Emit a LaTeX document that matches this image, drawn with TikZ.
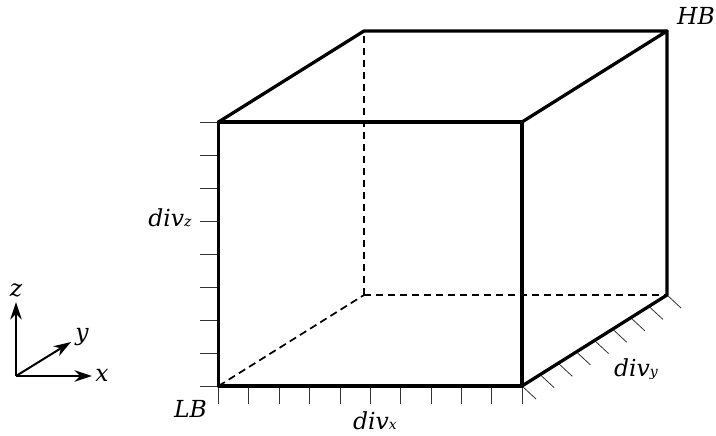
\documentclass[tikz,border=0pt]{standalone}
\usepackage{fontspec}
\setmainfont{DejaVu Serif}
\usetikzlibrary{arrows.meta,calc}
\tikzset{
  px/.style={x=0.75pt,y=-0.75pt},
  edge/.style={line width=2.45pt,line cap=round,line join=round},
  hidden/.style={line width=1.3pt,dash pattern=on 5.6pt off 3.4pt},
  tick/.style={line width=0.6pt,black!80},
  axis/.style={line width=1.5pt,-{Stealth[length=13pt,width=8.5pt,inset=4pt]}},
  lab/.style={inner sep=0pt,font=\fontsize{17.6}{20}\selectfont\itshape},
}
\newcommand{\sbs}[1]{{\fontsize{10.5}{13}\selectfont #1}}
\begin{document}
\begin{tikzpicture}[px]
\useasboundingbox (0,0) rectangle (716,435);
% corners
\coordinate (A) at (218.5,386);
\coordinate (B) at (522,386);
\coordinate (C) at (522,122);
\coordinate (D) at (218.5,122);
\coordinate (E) at (364,295);
\coordinate (F) at (667,295);
\coordinate (G) at (667,31);
\coordinate (H) at (364,31);
% hidden edges
\draw[hidden] (A) -- (E);
\draw[hidden] (E) -- (F);
\draw[hidden] (E) -- (H);
% ticks
\foreach \i in {0,...,10}{
  \coordinate (xt\i) at ($(A)!\i/10!(B)$);
  \draw[tick] (xt\i) -- ++(0,18);
}
\foreach \i in {0,...,8}{
  \coordinate (zt\i) at ($(A)!\i/8!(D)$);
  \draw[tick] (zt\i) -- ++(-19,0);
}
\foreach \i in {0,...,8}{
  \coordinate (yt\i) at ($(B)!\i/8!(F)$);
  \draw[tick] (yt\i) -- ++(14,13);
}
% visible edges
\draw[edge] (A) -- (B) -- (C) -- (D) -- cycle;
\draw[edge] (D) -- (H) -- (G) -- (C);
\draw[edge] (B) -- (F) -- (G);
% axes
\coordinate (O) at (16,376);
\node[lab] (zl) at (16,290) {z};
\node[lab] (yl) at (82,337) {y};
\node[lab] (xl) at (102,375) {x};
\draw[axis] (O) -- (16,302);
\draw[axis] (O) -- (71,342);
\draw[axis] (O) -- (92,376);
% labels
\node[lab] (lb) at (190.5,409) {LB};
\node[lab] (hb) at (696,15.5) {HB};
\node[lab] (dz) at (170,217.5) {div\sbs{z}};
\node[lab] (dx) at (375,420.5) {div\sbs{x}};
\node[lab] (dy) at (636,369.5) {div\sbs{y}};
\end{tikzpicture}
\end{document}
